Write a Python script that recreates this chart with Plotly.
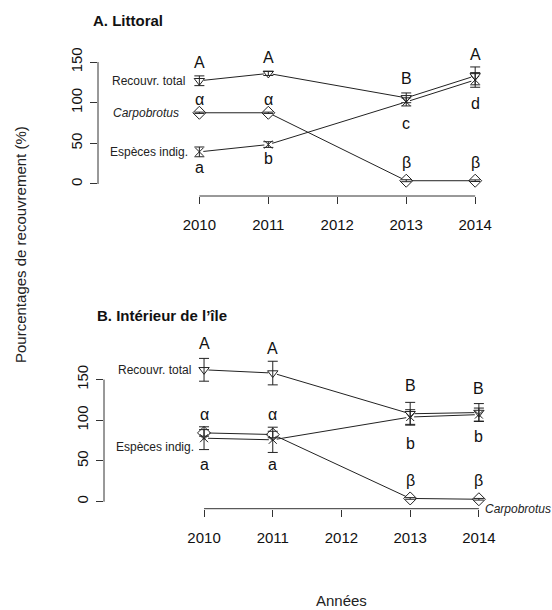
import plotly.graph_objects as go

# ---------------- data ----------------
YEARS = [2010, 2011, 2013, 2014]
X_TICKS = [2010, 2011, 2012, 2013, 2014]
Y_TICKS = [0, 50, 100, 150]

# Panel A - Littoral
A_TOTAL = [127, 136, 106, 133]
A_TOTAL_ERR = [6, 2.5, 6, 11]
A_INDIG = [39.5, 48.5, 101, 128]
A_INDIG_ERR = [6, 3.5, 5, 9]
A_CARPO = [87.6, 87.6, 4, 4]
A_CARPO_ERR = [0.8, 0.8, 1.2, 1]

# Panel B - Intérieur de l'île
B_TOTAL = [162, 158, 108, 109.5]
B_TOTAL_ERR = [14, 14.5, 14, 11]
B_INDIG = [78, 76, 104, 107]
B_INDIG_ERR = [14, 15.5, 9, 8]
B_CARPO = [84.5, 82.5, 4, 3]
B_CARPO_ERR = [4, 4, 1, 1]

# significance letters and their heights
A_TOTAL_LET = ["A", "A", "B", "A"]
A_TOTAL_LET_Y = [149, 155, 130, 159]
A_CARPO_LET = ["α", "α", "β", "β"]
A_CARPO_LET_Y = [104, 104, 26, 26]
A_INDIG_LET = ["a", "b", "c", "d"]
A_INDIG_LET_Y = [20, 31, 75, 99]

B_TOTAL_LET = ["A", "A", "B", "B"]
B_TOTAL_LET_Y = [194, 188, 143, 139]
B_CARPO_LET = ["α", "α", "β", "β"]
B_CARPO_LET_Y = [107.5, 107.5, 26.6, 26.6]
B_INDIG_LET = ["a", "a", "b", "b"]
B_INDIG_LET_Y = [46, 46, 72, 80.5]

LBL_TOTAL = "Recouvr. total"
LBL_INDIG = "Espèces indig."
LBL_CARPO = "<i>Carpobrotus</i>"

W, H = 552, 610
FONT = "Liberation Sans, Arial, sans-serif"
INK = "#222222"
AXC = "#333333"

fig = go.Figure()

panels = [
    dict(xa="x", ya="y",
         series=[(A_TOTAL, A_TOTAL_ERR, "triangle-down-open", 9),
                 (A_INDIG, A_INDIG_ERR, "x-thin-open", 8),
                 (A_CARPO, A_CARPO_ERR, "diamond-open", 10)],
         letters=[(A_TOTAL_LET, A_TOTAL_LET_Y), (A_CARPO_LET, A_CARPO_LET_Y),
                  (A_INDIG_LET, A_INDIG_LET_Y)]),
    dict(xa="x2", ya="y2",
         series=[(B_TOTAL, B_TOTAL_ERR, "triangle-down-open", 9),
                 (B_INDIG, B_INDIG_ERR, "x-thin-open", 8),
                 (B_CARPO, B_CARPO_ERR, "diamond-open", 10)],
         letters=[(B_TOTAL_LET, B_TOTAL_LET_Y), (B_CARPO_LET, B_CARPO_LET_Y),
                  (B_INDIG_LET, B_INDIG_LET_Y)]),
]

for p in panels:
    # connecting lines
    for vals, err, sym, sz in p["series"]:
        fig.add_trace(go.Scatter(x=YEARS, y=vals, mode="lines",
                                 line=dict(color=INK, width=1),
                                 xaxis=p["xa"], yaxis=p["ya"], showlegend=False,
                                 hoverinfo="skip"))
    # gaps around points (R type "b")
    for vals, err, sym, sz in p["series"]:
        fig.add_trace(go.Scatter(x=YEARS, y=vals, mode="markers",
                                 marker=dict(symbol="circle", size=sz, color="white",
                                             line=dict(width=0)),
                                 xaxis=p["xa"], yaxis=p["ya"], showlegend=False,
                                 hoverinfo="skip"))
    # points with error bars
    for vals, err, sym, sz in p["series"]:
        fig.add_trace(go.Scatter(x=YEARS, y=vals, mode="markers",
                                 marker=dict(symbol=sym, size=sz, color=INK,
                                             line=dict(width=1, color=INK)),
                                 error_y=dict(type="data", array=err, visible=True,
                                              width=5, thickness=1, color=INK),
                                 xaxis=p["xa"], yaxis=p["ya"], showlegend=False))

annotations = []
for p in panels:
    for labs, ys in p["letters"]:
        for xv, t, yv in zip(YEARS, labs, ys):
            annotations.append(dict(x=xv, y=yv, xref=p["xa"], yref=p["ya"], text=t,
                                    showarrow=False, font=dict(size=16, color="#111"),
                                    xanchor="center", yanchor="middle"))

lab_font = dict(size=12, color="#222", family=FONT)
# Panel A series labels
annotations += [
    dict(x=YEARS[0], y=A_TOTAL[0], xref="x", yref="y", text=LBL_TOTAL, showarrow=False,
         xanchor="right", yanchor="middle", xshift=-12, font=lab_font),
    dict(x=YEARS[0], y=A_CARPO[0], xref="x", yref="y", text=LBL_CARPO, showarrow=False,
         xanchor="right", yanchor="middle", xshift=-18, font=lab_font),
    dict(x=YEARS[0], y=A_INDIG[0], xref="x", yref="y", text=LBL_INDIG, showarrow=False,
         xanchor="right", yanchor="middle", xshift=-9, font=lab_font),
    # Panel B
    dict(x=YEARS[0], y=B_TOTAL[0], xref="x2", yref="y2", text=LBL_TOTAL, showarrow=False,
         xanchor="right", yanchor="middle", xshift=-11, font=lab_font),
    dict(x=YEARS[0], y=B_INDIG[0], xref="x2", yref="y2", text=LBL_INDIG, showarrow=False,
         xanchor="right", yanchor="middle", xshift=-8, yshift=-9, font=lab_font),
    dict(x=YEARS[-1], y=B_CARPO[-1], xref="x2", yref="y2", text=LBL_CARPO, showarrow=False,
         xanchor="left", yanchor="middle", xshift=4, yshift=-10, font=lab_font),
]

# titles
annotations += [
    dict(x=91 / W, y=1 - 20 / H, xref="paper", yref="paper", text="<b>A. Littoral</b>",
         showarrow=False, xanchor="left", yanchor="middle",
         font=dict(size=15, color="#111", family=FONT)),
    dict(x=95 / W, y=1 - 315 / H, xref="paper", yref="paper",
         text="<b>B. Intérieur de l’île</b>",
         showarrow=False, xanchor="left", yanchor="middle",
         font=dict(size=15, color="#111", family=FONT)),
    dict(x=20 / W, y=1 - 245 / H, xref="paper", yref="paper",
         text="Pourcentages de recouvrement (%)", textangle=-90,
         showarrow=False, xanchor="center", yanchor="middle",
         font=dict(size=15, color="#222", family=FONT)),
    dict(x=341 / W, y=1 - 600 / H, xref="paper", yref="paper", text="Années",
         showarrow=False, xanchor="center", yanchor="middle",
         font=dict(size=15, color="#222", family=FONT)),
]

# R-style axis lines spanning only first..last tick
shapes = []
for xa, ya in [("x", "y"), ("x2", "y2")]:
    shapes.append(dict(type="line", xref=xa + " domain", yref=ya, x0=0, x1=0,
                       y0=Y_TICKS[0], y1=Y_TICKS[-1], line=dict(color=AXC, width=1)))
    shapes.append(dict(type="line", xref=xa, yref=ya + " domain", x0=X_TICKS[0],
                       x1=X_TICKS[-1], y0=0, y1=0, line=dict(color=AXC, width=1)))

xax = dict(tickmode="array", tickvals=X_TICKS, ticks="outside", ticklen=7,
           tickwidth=1, tickcolor=AXC, showline=False, showgrid=False, zeroline=False,
           tickfont=dict(size=15, color="#111", family=FONT), ticklabelstandoff=8)
yax = dict(tickmode="array", tickvals=Y_TICKS, ticks="outside", ticklen=7,
           tickwidth=1, tickcolor=AXC, showline=False, showgrid=False, zeroline=False,
           tickangle=-90, tickfont=dict(size=15, color="#111", family=FONT),
           ticklabelstandoff=2)

fig.update_layout(
    width=W, height=H,
    margin=dict(l=0, r=0, t=0, b=0),
    paper_bgcolor="white", plot_bgcolor="white",
    font=dict(family=FONT),
    showlegend=False,
    xaxis=dict(xax, domain=[98 / W, 500 / W], range=[2008.53, 2014.36], anchor="y"),
    yaxis=dict(yax, domain=[1 - 196 / H, 1 - 45 / H], range=[-14.8, 171], anchor="x"),
    xaxis2=dict(xax, domain=[104 / W, 505 / W], range=[2008.544, 2014.38], anchor="y2"),
    yaxis2=dict(yax, domain=[1 - 508.7 / H, 1 - 340 / H], range=[-8.6, 198.6], anchor="x2"),
    annotations=annotations,
    shapes=shapes,
)

fig.write_html("out.html",
               config={"displayModeBar": False},
               post_script="document.body.style.margin='0';"
                           "document.body.style.overflow='hidden';")
